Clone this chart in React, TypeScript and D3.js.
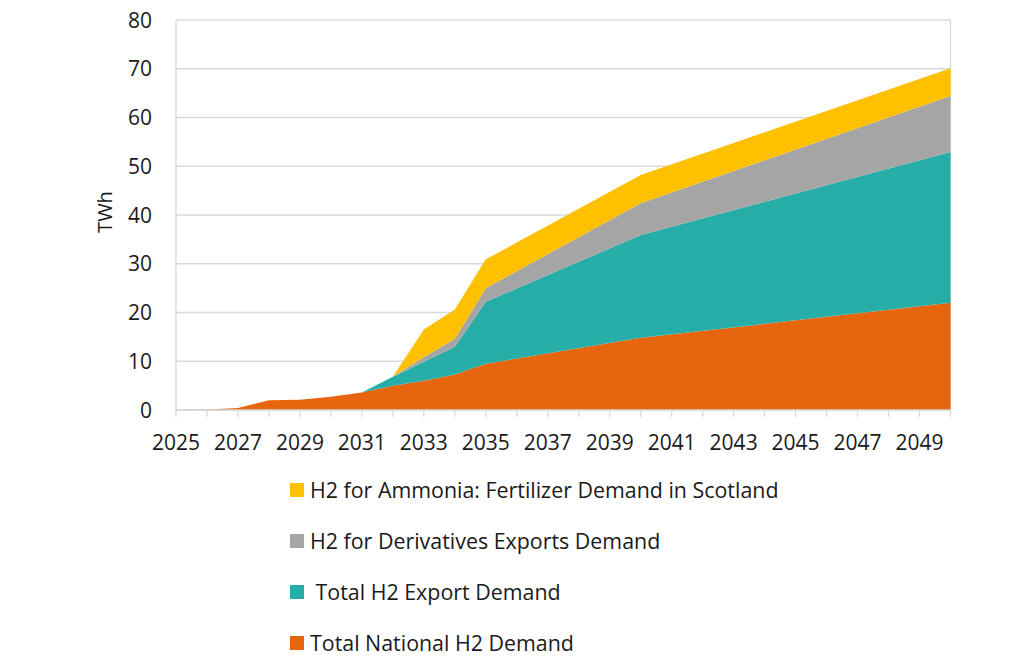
import React from "react";
import * as d3 from "d3";

const years = [2025, 2026, 2027, 2028, 2029, 2030, 2031, 2032, 2033, 2034, 2035, 2040, 2050];
const nationalDemand = [0, 0.1, 0.4, 2.0, 2.1, 2.7, 3.6, 5.0, 6.0, 7.3, 9.5, 14.8, 22.0];
const exportDemand = [0, 0, 0, 0, 0, 0, 0, 1.8, 3.9, 5.7, 12.7, 21.1, 30.9];
const derivativesDemand = [0, 0, 0, 0, 0, 0, 0, 0, 0.9, 1.6, 2.8, 6.5, 11.5];
const ammoniaDemand = [0, 0, 0, 0, 0, 0, 0, 0, 5.7, 6.0, 5.9, 5.8, 5.7];

const seriesNames = [
  "Total National H2 Demand",
  " Total H2 Export Demand",
  "H2 for Derivatives Exports Demand",
  "H2 for Ammonia: Fertilizer Demand in Scotland",
];
const seriesColors = ["#E8650F", "#27ADA7", "#A5A5A5", "#FFC000"];
const yTicks = [0, 10, 20, 30, 40, 50, 60, 70, 80];
const xLabelYears = [2025, 2027, 2029, 2031, 2033, 2035, 2037, 2039, 2041, 2043, 2045, 2047, 2049];
const xTickYears = d3.range(2025, 2051);

const W = 1024;
const H = 670;
const left = 176;
const right = 950.5;
const top = 20;
const bottom = 410;
const font = "'Open Sans', 'Noto Sans', sans-serif";

export default function App() {
  const x = d3.scaleLinear().domain([2025, 2050]).range([left, right]);
  const y = d3.scaleLinear().domain([0, 80]).range([bottom, top]);

  const rows = years.map((yr, i) => ({
    year: yr,
    s0: nationalDemand[i],
    s1: exportDemand[i],
    s2: derivativesDemand[i],
    s3: ammoniaDemand[i],
  }));
  const stack = d3.stack<any>().keys(["s0", "s1", "s2", "s3"]);
  const stacked = stack(rows);
  const area = d3
    .area<any>()
    .x((d) => x(d.data.year))
    .y0((d) => y(d[0]))
    .y1((d) => y(d[1]))
    .curve(d3.curveLinear);

  const grid = "#D9D9D9";
  const legendOrder = [3, 2, 1, 0];
  const legendX = 290;
  const legendY0 = 490;
  const legendStep = 51;

  return (
    <svg
      width={W}
      height={H}
      style={{ position: "absolute", left: 0, top: 0, background: "#fff" }}
      fontFamily={font}
    >
      {yTicks.map((t) => (
        <line key={t} x1={left} x2={right} y1={y(t)} y2={y(t)} stroke={grid} strokeWidth={1.3} />
      ))}
      <line x1={left} x2={left} y1={top} y2={bottom} stroke={grid} strokeWidth={1.3} />
      <line x1={right} x2={right} y1={top} y2={bottom} stroke={grid} strokeWidth={1.3} />

      {stacked.map((s, i) => (
        <path key={i} d={area(s) || ""} fill={seriesColors[i]} />
      ))}

      <line x1={left} x2={right} y1={bottom} y2={bottom} stroke={grid} strokeWidth={1.3} />
      {xTickYears.map((yr) => (
        <line key={yr} x1={x(yr)} x2={x(yr)} y1={bottom} y2={bottom + 7} stroke={grid} strokeWidth={1.3} />
      ))}
      {xLabelYears.map((yr) => (
        <text key={yr} x={x(yr)} y={450} textAnchor="middle" fontSize={21} fill="#1a1a1a">
          {yr}
        </text>
      ))}

      {yTicks.map((t) => (
        <text key={t} x={152} y={y(t) + 7.5} textAnchor="end" fontSize={21} fill="#1a1a1a">
          {t}
        </text>
      ))}
      <text transform={`translate(112, 212) rotate(-90)`} textAnchor="middle" fontSize={20} fill="#1a1a1a">
        TWh
      </text>

      {legendOrder.map((si, k) => (
        <g key={si} transform={`translate(${legendX}, ${legendY0 + k * legendStep})`}>
          <rect x={0} y={-7} width={14} height={14} fill={seriesColors[si]} />
          <text x={20} y={7.5} fontSize={21.4} fill="#1a1a1a" style={{ whiteSpace: "pre" }}>
            {seriesNames[si]}
          </text>
        </g>
      ))}
    </svg>
  );
}
